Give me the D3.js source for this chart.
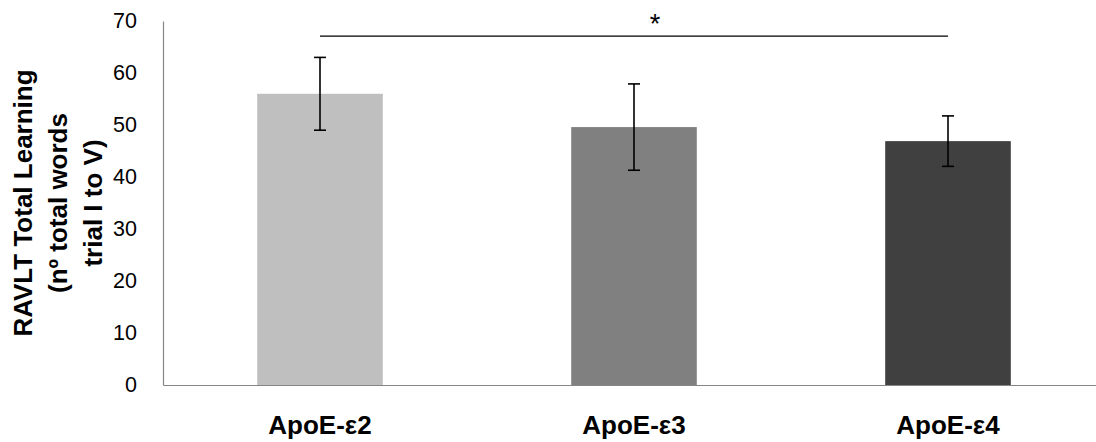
<!DOCTYPE html>
<html><head><meta charset="utf-8">
<script src="https://cdn.jsdelivr.net/npm/d3@7"></script>
<style>body{margin:0;background:#fff}svg{display:block}</style>
</head><body>
<svg id="c" width="1096" height="442"></svg>
<script>
const categories = ["ApoE-ε2", "ApoE-ε3", "ApoE-ε4"];
const means = [56.0, 49.6, 46.9];
const errors = [7.0, 8.3, 4.85];
const barColors = ["#bfbfbf", "#808080", "#404040"];
const yTicks = [0, 10, 20, 30, 40, 50, 60, 70];
const yTitleLines = ["RAVLT Total Learning", "(nº total words", "trial I to V)"];
const sigBracket = {from: "ApoE-ε2", to: "ApoE-ε4", value: 67.1, label: "*"};

(function () {
const svg = d3.select("#c");
const mLeft = 163, mRight = 1105, mTop = 21, mBottom = 385;
const font = "'Liberation Sans', Arial, sans-serif";

const x = d3.scaleBand().domain(categories).range([mLeft, mRight]).paddingInner(0.6).paddingOuter(0.3);
const y = d3.scaleLinear().domain([0, 70]).range([mBottom, mTop]);

// y axis
const ya = svg.append("g").attr("transform", `translate(${mLeft},0)`)
  .call(d3.axisLeft(y).tickValues(yTicks).tickSize(0).tickPadding(26));
ya.select(".domain").attr("stroke", "#868686").attr("stroke-width", 1.2);
ya.selectAll("text").attr("font-family", font).attr("font-size", 21.5).attr("fill", "#000");

// bars
svg.append("g").selectAll("rect").data(categories).join("rect")
  .attr("x", d => x(d)).attr("width", x.bandwidth())
  .attr("y", (d, i) => y(means[i])).attr("height", (d, i) => y(0) - y(means[i]))
  .attr("fill", (d, i) => barColors[i]);

// x axis
const xa = svg.append("g").attr("transform", `translate(0,${mBottom})`)
  .call(d3.axisBottom(x).tickSize(0));
xa.select(".domain").attr("stroke", "#868686").attr("stroke-width", 1.2);
xa.selectAll("text").attr("font-family", font).attr("font-size", 26).attr("font-weight", "bold")
  .attr("fill", "#000").attr("y", 49).attr("dy", 0);

// error bars
const eb = svg.append("g").attr("stroke", "#000").attr("stroke-width", 1.6);
categories.forEach((c, i) => {
  const cx = x(c) + x.bandwidth() / 2;
  const y1 = y(means[i] + errors[i]), y2 = y(means[i] - errors[i]);
  eb.append("line").attr("x1", cx).attr("x2", cx).attr("y1", y1).attr("y2", y2);
  eb.append("line").attr("x1", cx - 6).attr("x2", cx + 6).attr("y1", y1).attr("y2", y1);
  eb.append("line").attr("x1", cx - 6).attr("x2", cx + 6).attr("y1", y2).attr("y2", y2);
});

// significance bracket
const sx1 = x(sigBracket.from) + x.bandwidth() / 2, sx2 = x(sigBracket.to) + x.bandwidth() / 2;
svg.append("line").attr("x1", sx1).attr("x2", sx2).attr("y1", y(sigBracket.value)).attr("y2", y(sigBracket.value))
  .attr("stroke", "#000").attr("stroke-width", 1.2);
svg.append("text").attr("x", (sx1 + sx2) / 2 + 21).attr("y", y(sigBracket.value) - 3)
  .attr("text-anchor", "middle").attr("font-family", font).attr("font-size", 27).attr("fill", "#000")
  .text(sigBracket.label);

// y title
const yt = svg.append("text").attr("transform", "translate(0,203) rotate(-90)")
  .attr("text-anchor", "middle").attr("font-family", font).attr("font-size", 26).attr("font-weight", "bold").attr("fill", "#000");
yTitleLines.forEach((t, i) => {
  yt.append("tspan").attr("x", 0).attr("y", 32 + i * 35).text(t);
});
})();
</script>
</body></html>
